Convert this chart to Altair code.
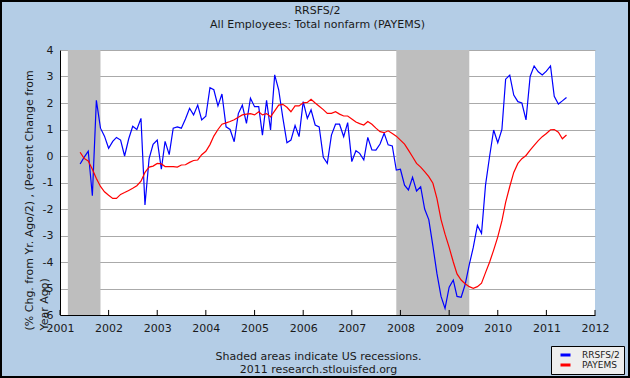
import altair as alt
import pandas as pd

# ---------------- data ----------------
months = pd.date_range("2001-06-01", "2011-06-01", freq="MS").strftime("%Y-%m-%d").tolist()

rrsfs_half = [
    -0.3, -0.05, 0.18, -1.5, 2.1, 1.05, 0.75,
    0.29, 0.55, 0.7, 0.6, 0.0, 0.65, 1.12, 1.0, 1.42, -1.85, -0.1, 0.44,
    0.6, -0.5, 0.55, 0.05, 1.05, 1.1, 1.05, 1.4, 1.8, 1.55, 1.92, 1.36,
    1.5, 2.58, 2.5, 1.89, 2.34, 1.1, 1.0, 0.54, 1.6, 1.92, 1.23, 2.18,
    1.86, 1.86, 0.79, 2.1, 0.98, 3.06, 2.5, 1.45, 0.5, 0.6, 1.15, 0.73,
    2.05, 1.42, 1.74, 1.17, 1.1, -0.05, -0.28, 0.79, 1.2, 1.2, 0.73, 1.26,
    -0.21, 0.2, 0.1, -0.15, 0.7, 0.23, 0.22, 0.45, 0.86, 0.42, 0.38, -0.53,
    -0.5, -1.1, -1.28, -0.8, -1.32, -1.16, -2.0, -2.4, -3.4, -4.43, -5.3, -5.75,
    -4.95, -4.68, -5.3, -5.33, -4.85, -4.1, -3.45, -2.62, -2.92, -1.1, 0.0, 0.98,
    0.5, 1.0, 2.9, 3.05, 2.3, 2.05, 2.0, 1.36, 3.0, 3.4, 3.18, 3.06,
    3.2, 3.4, 2.25, 1.96, 2.08, 2.21,
]

payems = [
    0.14, -0.09, -0.19, -0.5, -0.85, -1.15, -1.35,
    -1.48, -1.6, -1.6, -1.45, -1.38, -1.3, -1.22, -1.12, -0.95, -0.62, -0.42, -0.38,
    -0.28, -0.3, -0.4, -0.4, -0.4, -0.42, -0.34, -0.33, -0.24, -0.17, -0.15, 0.05,
    0.18, 0.43, 0.75, 1.0, 1.2, 1.25, 1.3, 1.37, 1.46, 1.55, 1.58, 1.6,
    1.55, 1.67, 1.55, 1.6, 1.48, 1.7, 1.92, 1.95, 1.84, 1.67, 1.89, 1.89,
    2.01, 2.02, 2.14, 2.0, 1.88, 1.75, 1.61, 1.61, 1.67, 1.58, 1.51, 1.51,
    1.4, 1.28, 1.22, 1.17, 1.3, 1.2, 1.05, 0.92, 0.88, 0.95, 0.85, 0.75,
    0.6, 0.45, 0.22, -0.03, -0.28, -0.42, -0.59, -0.78, -1.03, -1.6, -2.4, -2.95,
    -3.45, -4.0, -4.45, -4.68, -4.82, -4.93, -4.99, -4.93, -4.8, -4.4, -4.0, -3.55,
    -3.05, -2.45, -1.75, -1.15, -0.62, -0.28, -0.1, 0.02, 0.22, 0.4, 0.58, 0.73,
    0.85, 0.99, 1.0, 0.9, 0.65, 0.79,
]

series_names = ["RRSFS/2", "PAYEMS"]
series_colors = ["#0000FF", "#FF0000"]

recession_start = ["2001-03-01", "2007-12-01"]
recession_end = ["2001-11-01", "2009-06-01"]

year_ticks = list(range(2001, 2013))
y_ticks = list(range(-6, 5))

title_lines = ["RRSFS/2", "All Employees: Total nonfarm (PAYEMS)"]
y_title_lines = ["(% Chg. from Yr. Ago/2) , (Percent Change from", "Year Ago)"]
note_lines = ["Shaded areas indicate US recessions.", "2011 research.stlouisfed.org"]

# ---------------- tables ----------------
lines_df = pd.DataFrame({
    "date": months * 2,
    "value": rrsfs_half + payems,
    "series": [series_names[0]] * len(months) + [series_names[1]] * len(months),
})
rec_df = pd.DataFrame({"start": recession_start, "end": recession_end})
tick_df = pd.DataFrame({"date": [f"{y}-01-01" for y in year_ticks]})
frame_df = pd.DataFrame({"k": [0]})

FONT = "DejaVu Sans"
TXT = "#1a1a1a"

x_scale = alt.Scale(domain=[alt.DateTime(year=2001, month=1, date=1),
                            alt.DateTime(year=2012, month=1, date=1)])
y_scale = alt.Scale(domain=[-6, 4], nice=False, zero=False)

x_axis = alt.Axis(
    values=[alt.DateTime(year=y, month=1, date=1) for y in year_ticks],
    format="%Y", grid=False, ticks=False, tickSize=0, labelPadding=7,
    labelFont=FONT, labelFontSize=11, labelColor=TXT,
    domainColor="black", domainWidth=1,
    title=note_lines, titleFont=FONT, titleFontSize=11, titleFontWeight="normal",
    titleColor=TXT, titleX=258, titleY=35, titleAlign="center",
    titleBaseline="top", titleLineHeight=13, labelFlush=False,
)
y_axis = alt.Axis(
    values=y_ticks, grid=True, gridColor="#AAAAAA", gridWidth=1,
    ticks=False, tickSize=0, labelPadding=7, labelExpr="datum.value",
    labelFont=FONT, labelFontSize=11, labelColor=TXT,
    domainColor="black", domainWidth=1,
    title=y_title_lines, titleFont=FONT, titleFontSize=11, titleFontWeight="normal",
    titleColor=TXT, titleAngle=270, titleAlign="left", titleBaseline="top",
    titleX=-37, titleY=280, titleLineHeight=15,
)

recessions = alt.Chart(rec_df).mark_rect(color="#BEBEBE").encode(
    x=alt.X("start:T", scale=x_scale, axis=x_axis),
    x2="end:T",
)

lines = alt.Chart(lines_df).mark_line(strokeWidth=1.2).encode(
    x=alt.X("date:T", scale=x_scale, axis=x_axis),
    y=alt.Y("value:Q", scale=y_scale, axis=y_axis),
    color=alt.Color(
        "series:N",
        scale=alt.Scale(domain=series_names, range=series_colors),
        sort=series_names,
        legend=alt.Legend(
            title=None, orient="none", legendX=491, legendY=296,
            fillColor="#EEEEEE", strokeColor="black", padding=4,
            symbolType="stroke", symbolStrokeWidth=3, symbolSize=100,
            symbolOffset=4, labelOffset=10, rowPadding=-4, clipHeight=10,
            labelFont=FONT, labelFontSize=9, labelColor=TXT,
        ),
    ),
    detail="series:N",
)

year_marks = alt.Chart(tick_df).mark_rule(color="black", strokeWidth=1).encode(
    x=alt.X("date:T", scale=x_scale, axis=x_axis),
    y=alt.YDatum(-6, scale=y_scale, axis=y_axis),
    y2=alt.Y2Datum(-5.81),
)

frame = alt.Chart(frame_df).mark_rect(filled=False, stroke="black", strokeWidth=2).encode(
    x=alt.value(-59), x2=alt.value(569), y=alt.value(-49), y2=alt.value(327),
)

chart = alt.layer(recessions, lines, year_marks, frame).properties(
    width=535, height=265,
    padding={"left": 60, "top": 50, "right": 35, "bottom": 63},
    autosize=alt.AutoSizeParams(type="none"),
    title=alt.TitleParams(
        title_lines, font=FONT, fontSize=11, fontWeight="normal", color=TXT,
        anchor="middle", frame="group", dx=-10, offset=-30, lineHeight=14,
    ),
).configure(
    background="#B4CDE6",
).configure_view(
    fill="white", strokeWidth=0,
)

chart.save("out.html", embed_options={"renderer": "svg", "actions": False})
